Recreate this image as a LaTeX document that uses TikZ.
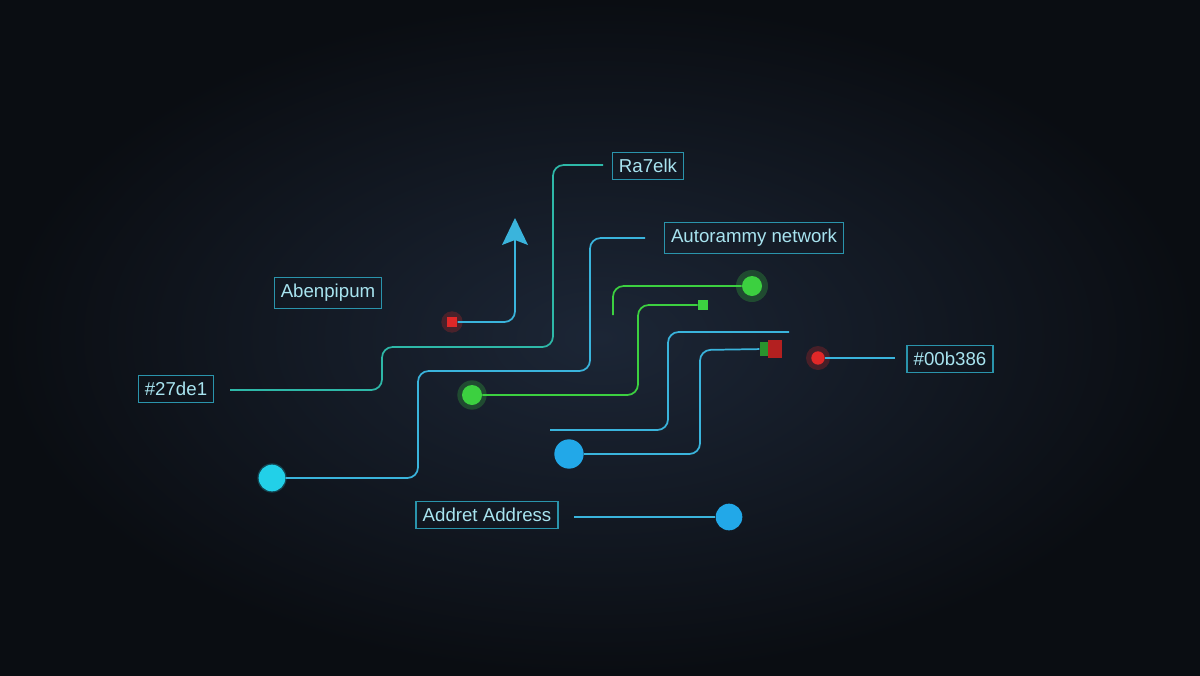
\documentclass[tikz,border=0pt]{standalone}
\usepackage{fontspec}
\setmainfont{Liberation Sans}
\begin{document}
\begin{tikzpicture}[x=0.75pt,y=-0.75pt,
  wire/.style={line width=1.3pt,rounded corners=8pt,draw=wblue},
  gwire/.style={wire,draw=wgreen},
  lab/.style={draw=boxc,line width=0.9pt,inner xsep=5pt,inner ysep=5pt,text=txtc,font=\fontsize{14}{16}\selectfont},
  dot/.style={circle,inner sep=0pt,minimum size=#1},
  halo/.style={circle,inner sep=0pt,minimum size=#1,opacity=0.25}]
\definecolor{wblue}{HTML}{3AB4DC}
\definecolor{wteal}{HTML}{2EB8A8}
\definecolor{wgreen}{HTML}{3CD040}
\definecolor{boxc}{HTML}{2A94AC}
\definecolor{txtc}{HTML}{A8E4F0}
\definecolor{bgin}{HTML}{1C2636}
\definecolor{bgout}{HTML}{0A0D12}
\definecolor{dblue}{HTML}{22A8E8}
\definecolor{dcyan}{HTML}{22D0E8}
\definecolor{dred}{HTML}{E02828}
\useasboundingbox (0,0) rectangle (1200,675);
\shade[inner color=bgin,outer color=bgout] (0,0) rectangle (1200,675);
% labels
\node[lab] (ra) at (648,166) {Ra7elk};
\node[lab] (au) at (754,238) {Autorammy network};
\node[lab] (ab) at (328,293) {Abenpipum};
\node[lab] (h1) at (176,389) {\#27de1};
\node[lab] (h2) at (950,359) {\#00b386};
\node[lab] (ad) at (487,515) {Addret Address};
% coordinates
\coordinate (p1s) at (230,390);
\coordinate (p1e) at (603,165);
\coordinate (p2e) at (645,238);
\coordinate (g1s) at (613,315);
\coordinate (b3s) at (550,430);
\coordinate (b3e) at (789,332);
\coordinate (h2l) at (895,358);
\coordinate (adl) at (574,517);
% dots
\node[halo=22,fill=dcyan] at (272,478) {};
\node[dot=20,fill=dcyan] (d1) at (272,478) {};
\node[halo=22,fill=wgreen] at (472,395) {};
\node[dot=15,fill=wgreen] (d2) at (472,395) {};
\node[halo=24,fill=wgreen] at (752,286) {};
\node[dot=15,fill=wgreen] (d3) at (752,286) {};
\node[dot=22,fill=dblue] (d4) at (569,454) {};
\node[dot=20,fill=dblue] (d5) at (729,517) {};
\node[halo=18,fill=dred] at (818,358) {};
\node[dot=10,fill=dred] (r2) at (818,358) {};
\node[halo=16,fill=dred] at (452,322) {};
\node[dot=8,fill=dred,rectangle] (r1) at (452,322) {};
\node[rectangle,inner sep=0pt,minimum size=10pt*0.75,fill=wgreen] (s1) at (703,305) {};
\node[rectangle,inner sep=0pt,minimum width=8,minimum height=11,fill=wgreen!70!black] (s2) at (765,349) {};
\node[rectangle,inner sep=0pt,minimum width=10,minimum height=13,fill=dred!80!black] (s3) at (775,349) {};
% wires
\draw[wire,draw=wteal] (p1s) -- (382,390) -- (382,347) -- (553,347) -- (553,165) -- (p1e);
\draw[wire] (d1) -- (418,478) -- (418,371) -- (590,371) -- (590,238) -- (p2e);
\draw[wire] (r1) -- (515,322) -- (515,240);
\fill[wblue] (515,218) -- (528,245) -- (515,240) -- (502,245) -- cycle;
\draw[gwire] (g1s) -- (613,286) -- (d3);
\draw[gwire] (d2) -- (638,395) -- (638,305) -- (s1);
\draw[wire] (b3s) -- (668,430) -- (668,332) -- (b3e);
\draw[wire] (d4) -- (700,454) -- (700,350) -- (s2);
\draw[wire] (r2) -- (h2l);
\draw[wire] (adl) -- (d5);
\end{tikzpicture}
\end{document}
